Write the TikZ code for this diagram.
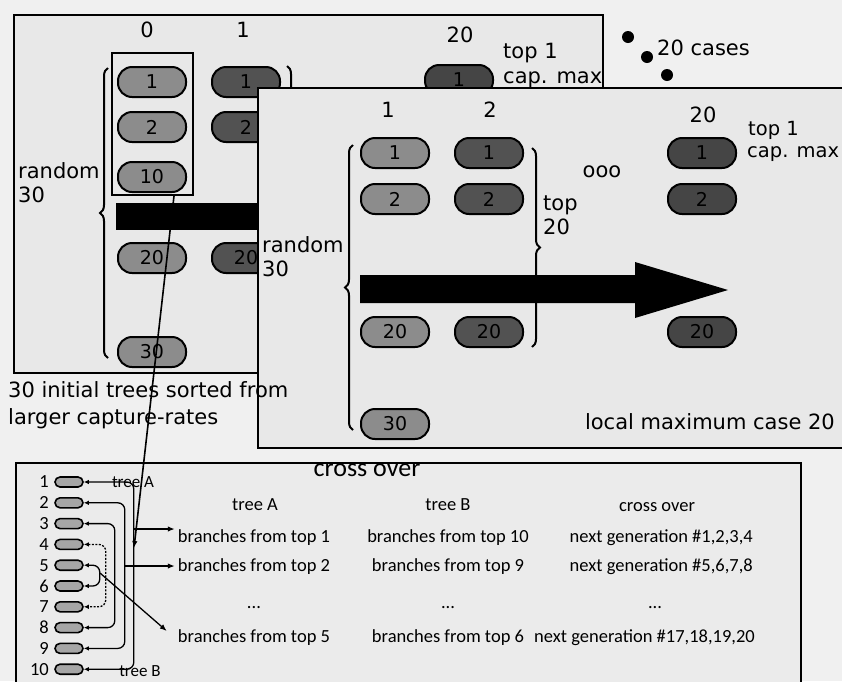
\documentclass[tikz,border=0pt]{standalone}
\usepackage{fontspec}
\setmainfont{DejaVu Sans}
\newfontfamily\carlito{Carlito}
\usetikzlibrary{decorations.pathreplacing,arrows.meta,calc}
\newcommand\bigfont{\fontsize{21}{24}\selectfont}
\newcommand\capfont{\fontsize{21}{27}\selectfont}
\newcommand\pillfont{\fontsize{19}{21}\selectfont}
\newcommand\cofont{\carlito\fontsize{18.5}{21}\selectfont}
\newcommand\cotitlefont{\carlito\fontsize{26}{28}\selectfont}
\begin{document}
\begin{tikzpicture}[x=1pt,y=-1pt,
  lbl/.style={font=\bigfont, inner sep=0pt},
  pill/.style={draw=black, line width=2pt, rounded corners=14pt, minimum width=68pt, minimum height=30pt, inner sep=0pt, font=\pillfont},
  pa/.style={pill, fill=black!45},
  pb/.style={pill, fill=black!68},
  pc/.style={pill, fill=black!73},
  win/.style={draw=black, line width=2pt, fill=black!9},
  spill/.style={draw=black, line width=1.6pt, rounded corners=5pt, minimum width=28pt, minimum height=10pt, inner sep=0pt, fill=black!35},
  cotext/.style={font=\cofont, inner sep=0pt},
  numtext/.style={font=\cofont, inner sep=0pt, anchor=east},
  looparrow/.style={line width=1.3pt, rounded corners=7pt, {Latex[length=5pt,width=4.5pt]}-{Latex[length=5pt,width=4.5pt]}},
  rowarrow/.style={line width=1.3pt, -{Latex[length=7pt,width=5.5pt]}},
  bigbrace/.style={decorate, decoration={brace, amplitude=8pt}, line width=2pt},
  dotnode/.style={circle, fill=black, inner sep=0pt, minimum size=12pt}
]
\fill[black!6] (0,0) rectangle (842,681);
\useasboundingbox (0,0) rectangle (842,681);

% ---------- window 1 ----------
\draw[win] (14,15) rectangle (603,373);
\node[lbl] (h0) at (147,30) {0};
\node[lbl] (h1) at (243,30) {1};
\node[lbl] (h20) at (460,35) {20};
\node[lbl, anchor=west] (topa) at (503,53) {top 1};
\node[lbl, anchor=west] (capa) at (503,80) {cap. max};
\node[pa] (a1) at (152,82) {1};
\node[pa] (a2) at (152,127) {2};
\node[pa] (a10) at (152,177) {10};
\node[pa] (a20) at (152,258) {20};
\node[pa] (a30) at (152,352) {30};
\node[pb] (b1) at (246,82) {1};
\node[pb] (b2) at (246,127) {2};
\node[pb] (b20) at (246,258) {20};
\node[pc] (c1) at (459,80) {1};
\node[draw, line width=2pt, minimum width=81pt, minimum height=142pt, inner sep=0pt] (sel) at (152.5,124) {};
\fill (116,203) rectangle (420,230);
\draw[bigbrace] (108,358) -- (108,68);
\draw[bigbrace] (287,66) -- (287,250);
\node[lbl, anchor=west, align=left] (rnd1) at (18,183) {random\\30};

% ---------- window 2 ----------
\draw[win] (258,88) rectangle (850,448);
\node[lbl] (g1) at (388,110) {1};
\node[lbl] (g2) at (490,110) {2};
\node[lbl] (g20) at (703,115) {20};
\node[lbl, anchor=west, font=\fontsize{19.5}{22}\selectfont] (topb) at (748,130) {top 1};
\node[lbl, anchor=west, font=\fontsize{19.5}{22}\selectfont] (capb) at (747,154) {cap. max};
\node[pa] (d1) at (395,153) {1};
\node[pa] (d2) at (395,199) {2};
\node[pa] (d20) at (395,332) {20};
\node[pa] (d30) at (395,424) {30};
\node[pb] (e1) at (489,153) {1};
\node[pb] (e2) at (489,199) {2};
\node[pb] (e20) at (489,332) {20};
\node[pc] (f1) at (702,153) {1};
\node[pc] (f2) at (702,199) {2};
\node[pc] (f20) at (702,332) {20};
\node[lbl] (ooo) at (602,172) {ooo};
\draw[bigbrace] (353,430) -- (353,145);
\draw[bigbrace] (532,148) -- (532,347);
\node[lbl, anchor=west, align=left] (top20) at (543,215) {top\\20};
\node[lbl, anchor=west, align=left] (rnd2) at (262,257) {random\\30};
\fill (360,275) -- (635,275) -- (635,262) -- (728,290) -- (635,318) -- (635,303) -- (360,303) -- cycle;
\node[lbl, anchor=east] (local) at (835,422) {local maximum case 20};

% ---------- 20 cases ----------
\node[dotnode] (dt1) at (628,37) {};
\node[dotnode] (dt2) at (647,57) {};
\node[dotnode] (dt3) at (667,75) {};
\node[lbl, anchor=west] (cases) at (657,48) {20 cases};

% ---------- caption ----------
\node[font=\capfont, inner sep=0pt, anchor=north west, align=left] (cap) at (8,381) {30 initial trees sorted from\\larger capture-rates};

% ---------- cross over box ----------
\draw[win, fill=black!8] (16,463) rectangle (801,700);
\node[font=\cotitlefont, inner sep=0pt] (cotitle) at (367,470) {cross over};
\node[cotext] (hA) at (255,505) {tree A};
\node[cotext] (hB) at (448,505) {tree B};
\node[cotext] (hC) at (657,507) {cross over};
\node[cotext] (rA1) at (254,538) {branches from top 1};
\node[cotext] (rA2) at (254,567) {branches from top 2};
\node[cotext] (rAd) at (254,608) {...};
\node[cotext] (rA5) at (254,638) {branches from top 5};
\node[cotext] (rB1) at (448,538) {branches from top 10};
\node[cotext] (rB2) at (448,567) {branches from top 9};
\node[cotext] (rBd) at (448,608) {...};
\node[cotext] (rB5) at (448,638) {branches from top 6};
\node[cotext, anchor=east] (rC1) at (753,538) {next generation \#1,2,3,4};
\node[cotext, anchor=east] (rC2) at (753,567) {next generation \#5,6,7,8};
\node[cotext] (rCd) at (655,608) {...};
\node[cotext, anchor=east] (rC5) at (755,638) {next generation \#17,18,19,20};

\foreach \i/\y in {1/482,2/502.8,3/523.6,4/544.4,5/565.2,6/586,7/606.8,8/627.6,9/648.4,10/669.2}{
  \node[numtext] (n\i) at (49,\y) {\i};
  \node[spill] (s\i) at (69,\y) {};
}
\node[cotext, font=\carlito\fontsize{17}{19}\selectfont] (treeA) at (133,482) {tree A};
\node[cotext, font=\carlito\fontsize{17}{19}\selectfont] (treeB) at (140,671) {tree B};

\draw[looparrow] (s1.east) -- ++(50,0) |- (s10.east);
\draw[looparrow] (s2.east) -- ++(41,0) |- (s9.east);
\draw[looparrow] (s3.east) -- ++(31,0) |- (s8.east);
\draw[looparrow, dash pattern=on 2pt off 1.5pt] (s4.east) -- ++(22,0) |- (s7.east);
\draw[looparrow] (s5.east) -- ++(16,0) |- (s6.east);

\coordinate (j1) at (133,529);
\coordinate (j2) at (124,566);
\coordinate (j5) at (100,573);
\draw[rowarrow] (j1) -- ([xshift=-3pt]rA1.west |- j1);
\draw[rowarrow] (j2) -- ([xshift=-3pt]rA2.west |- j2);
\draw[rowarrow] (j5) -- ($(rA5.west)+(-11,-7)$);

% ---------- long line ----------
\coordinate (lend) at (134,548);
\draw[rowarrow, line width=1.6pt] ([xshift=21.5pt]sel.south) -- (lend);
\end{tikzpicture}
\end{document}
